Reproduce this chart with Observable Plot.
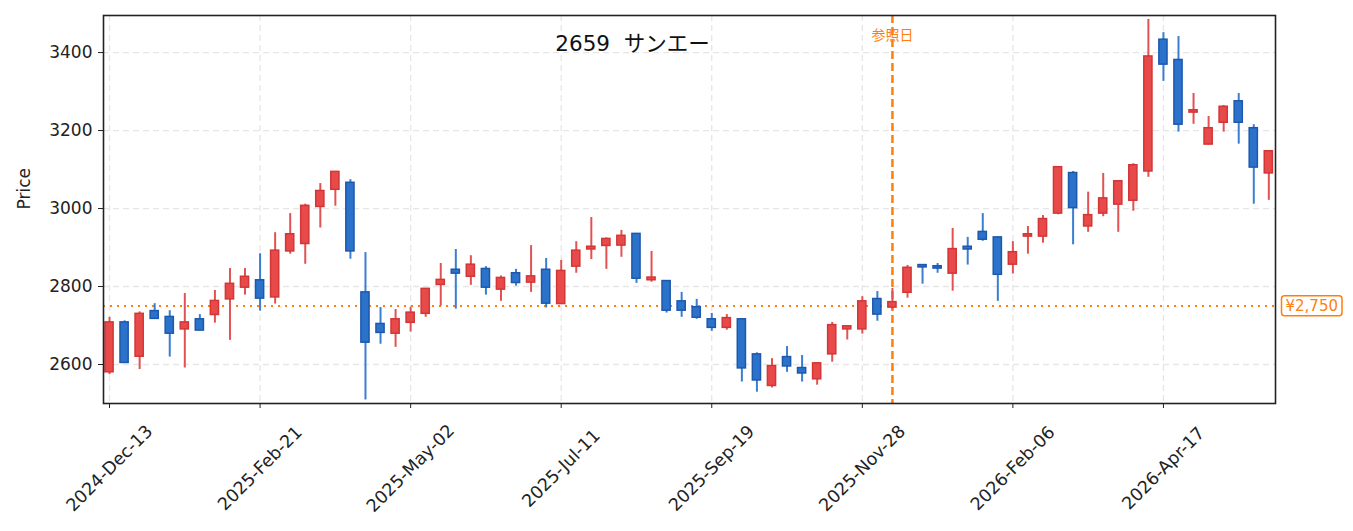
<!DOCTYPE html>
<html>
<head>
<meta charset="utf-8">
<script src="https://cdn.jsdelivr.net/npm/d3@7"></script>
<script src="https://cdn.jsdelivr.net/npm/@observablehq/plot@0.6"></script>
<style>
  html, body { margin: 0; padding: 0; background: #fff; }
  #chart { width: 1353px; height: 531px; }
</style>
</head>
<body>
<div id="chart"></div>
<script>
const dates = [
  "2024-12-13","2024-12-20","2024-12-27","2025-01-03","2025-01-10","2025-01-17","2025-01-24","2025-01-31",
  "2025-02-07","2025-02-14","2025-02-21","2025-02-28","2025-03-07","2025-03-14","2025-03-21","2025-03-28",
  "2025-04-04","2025-04-11","2025-04-18","2025-04-25","2025-05-02","2025-05-09","2025-05-16","2025-05-23",
  "2025-05-30","2025-06-06","2025-06-13","2025-06-20","2025-06-27","2025-07-04","2025-07-11","2025-07-18",
  "2025-07-25","2025-08-01","2025-08-08","2025-08-15","2025-08-22","2025-08-29","2025-09-05","2025-09-12",
  "2025-09-19","2025-09-26","2025-10-03","2025-10-10","2025-10-17","2025-10-24","2025-10-31","2025-11-07",
  "2025-11-14","2025-11-21","2025-11-28","2025-12-05","2025-12-12","2025-12-19","2025-12-26","2026-01-02",
  "2026-01-09","2026-01-16","2026-01-23","2026-01-30","2026-02-06","2026-02-13","2026-02-20","2026-02-27",
  "2026-03-06","2026-03-13","2026-03-20","2026-03-27","2026-04-03","2026-04-10","2026-04-17","2026-04-24",
  "2026-05-01","2026-05-08","2026-05-15","2026-05-22","2026-05-29","2026-06-05"
];
const opens = [2580,2708,2620,2737,2722,2690,2716,2727,2767,2797,2816,2772,2890,2909,3004,3048,3066,2785,2704,2679,
  2707,2730,2804,2843,2825,2845,2792,2834,2810,2843,2755,2851,2895,2904,2905,2935,2816,2814,2762,2747,
  2716,2694,2716,2626,2545,2619,2591,2562,2626,2690,2690,2768,2746,2784,2855,2852,2833,2902,2940,2926,
  2856,2928,2928,2987,3091,2954,2987,3010,3020,3095,3433,3381,3246,3164,3220,3275,3206,3090];
const closes = [2708,2604,2730,2717,2679,2708,2687,2763,2807,2825,2769,2892,2934,3007,3045,3094,2890,2656,2681,2716,
  2733,2794,2817,2833,2856,2797,2822,2809,2826,2756,2840,2892,2902,2922,2930,2820,2823,2738,2738,2720,
  2694,2719,2590,2559,2596,2595,2577,2603,2701,2698,2762,2728,2760,2848,2849,2846,2896,2895,2920,2830,
  2888,2934,2973,3106,3001,2983,3026,3070,3111,3390,3369,3215,3252,3206,3261,3220,3105,3147];
const highs = [2721,2712,2735,2756,2738,2782,2728,2790,2846,2846,2884,2938,2987,3011,3064,3094,3074,2887,2746,2741,
  2747,2795,2859,2895,2879,2851,2827,2844,2905,2872,2867,2915,2977,2925,2944,2935,2890,2815,2785,2767,
  2731,2728,2717,2630,2615,2646,2623,2604,2708,2699,2774,2787,2795,2854,2856,2859,2949,2926,2987,2927,
  2915,2954,2982,3107,3095,3042,3090,3071,3115,3485,3451,3441,3295,3236,3264,3295,3215,3147];
const lows = [2574,2603,2587,2716,2619,2591,2687,2706,2662,2778,2737,2755,2883,2857,2950,3006,2870,2509,2652,2644,
  2683,2721,2750,2742,2803,2778,2762,2801,2785,2745,2754,2834,2869,2844,2875,2808,2811,2732,2721,2716,
  2685,2688,2555,2529,2540,2580,2555,2547,2606,2663,2678,2711,2740,2770,2806,2834,2788,2855,2916,2762,
  2832,2883,2911,2984,2907,2939,2979,2939,2993,3080,3326,3196,3216,3163,3196,3165,3011,3021];

const xTickDates = ["2024-12-13","2025-02-21","2025-05-02","2025-07-11","2025-09-19","2025-11-28","2026-02-06","2026-04-17"];
const yTicks = [2600, 2800, 3000, 3200, 3400];
const refDate = "2025-12-12";
const refPrice = 2750;
const title = "2659  サンエー";
const refDateLabel = "参照日";
const refPriceLabel = "¥2,750";
const yLabel = "Price";

const parse = d3.utcParse("%Y-%m-%d");
const fmtDate = d3.utcFormat("%Y-%b-%d");
const data = dates.map((d, i) => ({
  date: parse(d), open: opens[i], close: closes[i], high: highs[i], low: lows[i],
  up: closes[i] >= opens[i]
}));
const DAY = 86400000;
const halfBody = 1.9 * DAY;

const upFill = "#e84a4a", upStroke = "#d23636", upWick = "#e35252";
const dnFill = "#2b73ca", dnStroke = "#1d58ad", dnWick = "#3a7ed3";
const orange = "#ff7f0e";
const FONT = "'DejaVu Sans', 'Noto Sans CJK JP', sans-serif";

const x0 = new Date(parse(dates[0]).getTime() - 2.8 * DAY);
const x1 = new Date(parse(dates[dates.length - 1]).getTime() + 3.1 * DAY);

const chart = Plot.plot({
  width: 1353,
  height: 531,
  marginLeft: 103,
  marginRight: 78,
  marginTop: 15,
  marginBottom: 128,
  style: { fontFamily: FONT, fontSize: "17px", color: "#222", background: "#fff" },
  x: { type: "utc", domain: [x0, x1] },
  y: { domain: [2500, 3495] },
  marks: [
    Plot.gridY(yTicks, { stroke: "#e6e6e6", strokeOpacity: 1, strokeWidth: 1.3, strokeDasharray: "6,4" }),
    Plot.gridX(xTickDates.map(parse), { stroke: "#e6e6e6", strokeOpacity: 1, strokeWidth: 1.3, strokeDasharray: "6,4" }),
    Plot.ruleY([refPrice], { stroke: orange, strokeWidth: 2, strokeDasharray: "2,5" }),
    Plot.ruleX([parse(refDate)], { stroke: orange, strokeWidth: 2.5, strokeDasharray: "8,4" }),
    Plot.ruleX(data, { x: "date", y1: "low", y2: "high", stroke: d => d.up ? upWick : dnWick, strokeWidth: 2 }),
    Plot.rect(data, {
      x1: d => new Date(d.date.getTime() - halfBody),
      x2: d => new Date(d.date.getTime() + halfBody),
      y1: "open", y2: "close",
      fill: d => d.up ? upFill : dnFill,
      stroke: d => d.up ? upStroke : dnStroke,
      strokeWidth: 1.5
    }),
    Plot.frame({ stroke: "#222", strokeWidth: 1.6 }),
    Plot.axisY({ ticks: yTicks, tickFormat: d => String(d), tickSize: 5, tickPadding: 6, label: null, fontSize: 17 }),
    Plot.axisX({ ticks: xTickDates.map(parse), tickFormat: () => "", tickSize: 5, label: null }),
    Plot.text(xTickDates, { x: d => parse(d), text: d => fmtDate(parse(d)), frameAnchor: "bottom", dy: 65, rotate: -45, textAnchor: "middle", lineAnchor: "middle", fontSize: 17.5, fill: "#222" }),
    Plot.text([yLabel], { frameAnchor: "left", dx: -79, rotate: -90, fontSize: 17, fill: "#222" }),
    Plot.text([title], { frameAnchor: "top", dx: -57, dy: 20, fontSize: 21.5, fill: "#111" }),
    Plot.text([refDateLabel], { x: () => parse(refDate), frameAnchor: "top", dy: 15, fontSize: 14, fill: orange }),
    Plot.text([refPriceLabel], { y: () => refPrice, frameAnchor: "right", dx: 10, textAnchor: "start", fontSize: 15, fill: orange })
  ]
});

document.getElementById("chart").appendChild(chart);

// rounded box around the price label
d3.select(chart).selectAll("text").each(function () {
  if (this.textContent === refPriceLabel) {
    const bb = this.getBBox();
    const rect = document.createElementNS("http://www.w3.org/2000/svg", "rect");
    rect.setAttribute("x", bb.x - 4);
    rect.setAttribute("y", bb.y - 1);
    rect.setAttribute("width", bb.width + 8);
    rect.setAttribute("height", bb.height + 2);
    rect.setAttribute("rx", 3);
    rect.setAttribute("fill", "#fff");
    rect.setAttribute("stroke", orange);
    rect.setAttribute("stroke-width", 1.5);
    const t = this.getAttribute("transform");
    if (t) rect.setAttribute("transform", t);
    this.parentNode.insertBefore(rect, this);
  }
});
</script>
</body>
</html>
